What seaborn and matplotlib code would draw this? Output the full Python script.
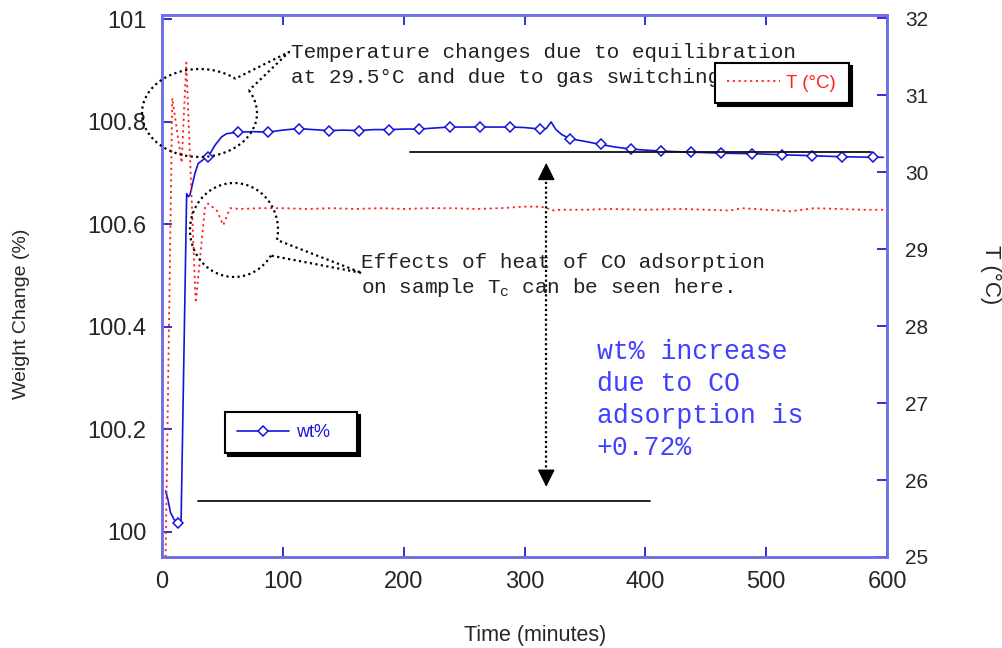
import numpy as np
import matplotlib
matplotlib.use("Agg")
import matplotlib.pyplot as plt
import seaborn as sns
from matplotlib.lines import Line2D

# ---------------- data ----------------
wt_time = [3, 5, 7, 10, 13, 15.8, 20.4, 21.8, 23.2, 27.3, 30, 35.6, 38, 44, 49.4, 53.5,
           63, 75, 88, 100, 113, 125, 138, 150, 163, 175, 188, 200, 213, 225, 238, 250,
           263, 275, 288, 300, 313, 318, 322, 326, 331, 338, 350, 363, 375, 388, 400,
           413, 438, 463, 488, 513, 538, 563, 588, 597]
wt_val = [100.080, 100.062, 100.038, 100.024, 100.018, 100.020, 100.660, 100.654, 100.658,
          100.700, 100.719, 100.729, 100.731, 100.755, 100.771, 100.777,
          100.780, 100.781, 100.780, 100.784, 100.787, 100.785, 100.783, 100.784,
          100.783, 100.785, 100.785, 100.786, 100.786, 100.788, 100.790, 100.790,
          100.790, 100.790, 100.790, 100.789, 100.786, 100.787, 100.800, 100.785,
          100.775, 100.767, 100.762, 100.756, 100.751, 100.747, 100.745,
          100.743, 100.741, 100.739, 100.738, 100.736, 100.734, 100.732, 100.731, 100.731]
wt_marker_times = [13, 38, 63, 88, 113, 138, 163, 188, 213, 238, 263, 288, 313, 338,
                   363, 388, 413, 438, 463, 488, 513, 538, 563, 588]

T_time = [3, 8.5, 16.3, 20.1, 27.9, 35.6, 38.3, 45.3, 50.7, 56.3, 65, 80, 100, 120, 140,
          160, 180, 200, 220, 240, 260, 280, 300, 310, 318, 322, 330, 350, 370, 400,
          430, 450, 470, 480, 500, 520, 540, 560, 580, 600]
T_val = [25.0, 30.96, 30.12, 31.42, 28.30, 29.55, 29.59, 29.50, 29.31, 29.53, 29.52,
         29.53, 29.53, 29.52, 29.53, 29.52, 29.53, 29.52, 29.53, 29.53, 29.52, 29.53,
         29.55, 29.55, 29.54, 29.50, 29.51, 29.51, 29.52, 29.51, 29.52, 29.51, 29.50,
         29.53, 29.51, 29.49, 29.53, 29.52, 29.51, 29.51]

x_ticks = [0, 100, 200, 300, 400, 500, 600]
y1_ticks = [100, 100.2, 100.4, 100.6, 100.8, 101]
y1_tick_labels = ['100', '100.2', '100.4', '100.6', '100.8', '101']
y2_ticks = [25, 26, 27, 28, 29, 30, 31, 32]

ref_high = 100.742
ref_low = 100.06
arrow_time = 318

# ---------------- style ----------------
sns.set_style("white")
plt.rcParams['font.family'] = ['Liberation Sans', 'DejaVu Sans']
plt.rcParams['mathtext.fontset'] = 'custom'
plt.rcParams['mathtext.rm'] = 'Liberation Mono'
plt.rcParams['mathtext.it'] = 'Liberation Mono'

W, H = 1002, 648
BLUE = '#1414e0'
RED = '#ff2020'
SPINE = '#6e6ee8'
TICKC = '#2020d0'
TXT = '#222222'
MONO = 'Liberation Mono'

fig = plt.figure(figsize=(W / 100, H / 100), dpi=100)
fig.patch.set_facecolor('white')
ax1 = fig.add_axes([162 / W, 1 - 557 / H, 725 / W, 542 / H])
ax2 = ax1.twinx()

mk_idx = [i for i, t in enumerate(wt_time) if t in wt_marker_times]
sns.lineplot(x=wt_time, y=wt_val, ax=ax1, color=BLUE, lw=1.2, marker='D',
             markevery=mk_idx, markersize=5, markerfacecolor='white',
             markeredgecolor=BLUE, markeredgewidth=1.1, legend=False)
sns.lineplot(x=T_time, y=T_val, ax=ax2, color=RED, lw=1.3, legend=False)
ax2.lines[-1].set_linestyle((0, (1.2, 2.0)))

ax1.set_xlim(0, 600)
ax1.set_ylim(99.951, 101.0086)
ax2.set_ylim(25, 32.039)

ax1.set_xticks(x_ticks)
ax1.set_yticks(y1_ticks)
ax1.set_yticklabels(y1_tick_labels)
ax2.set_yticks(y2_ticks)

ax1.tick_params(axis='x', direction='in', top=True, bottom=True, length=7, width=1.3,
                color=TICKC, labelsize=17, pad=10)
ax1.tick_params(axis='y', direction='in', left=True, right=False, length=7, width=1.3,
                color=TICKC, labelsize=17, pad=11)
ax2.tick_params(axis='y', direction='in', right=True, left=False, length=7, width=1.3,
                color=TICKC, labelsize=15, pad=13)
for ax in (ax1, ax2):
    for s in ax.spines.values():
        s.set_color(SPINE)
        s.set_linewidth(1.8)

ax1.set_xlabel('Time (minutes)', fontsize=15.5, va='center')
ax1.xaxis.set_label_coords((535 - 162) / 725, (557 - 636) / 542)
ax1.set_ylabel('Weight Change (%)', fontsize=14, va='center')
ax1.yaxis.set_label_coords((22 - 162) / 725, (557 - 314) / 542)
ax2.set_ylabel('T (°C)', fontsize=16, rotation=270, va='center', ha='center')
ax2.yaxis.set_label_coords((991 - 162) / 725, (557 - 275) / 542)

# reference lines and double arrow
ax1.plot([205, 587], [ref_high, ref_high], color='#111111', lw=1.3)
ax1.plot([30, 404], [ref_low, ref_low], color='#111111', lw=1.3)
ax1.plot([arrow_time, arrow_time], [ref_high - 0.04, ref_low + 0.04], color='black',
         lw=1.6, ls=(0, (1, 1.2)))
for tip, tail in ((100.72, 100.69), (100.088, 100.118)):
    ax1.annotate('', xy=(arrow_time, tip), xytext=(arrow_time, tail),
                 arrowprops=dict(arrowstyle='-|>,head_length=0.9,head_width=0.45',
                                 color='black', lw=1, shrinkA=0, shrinkB=0,
                                 mutation_scale=12))


# callout bubbles (pixel coordinates)
def callout(cx, cy, a, b, th0, th1, tip):
    th = np.radians(np.linspace(th0, th1, 300))
    xs = cx + a * np.cos(th)
    ys = cy + b * np.sin(th)
    xs = np.r_[xs, tip[0], xs[0]]
    ys = np.r_[ys, tip[1], ys[0]]
    ln = Line2D(xs / W, 1 - ys / H, transform=fig.transFigure, color='black',
                lw=1.6, ls=(0, (1, 1.5)), zorder=5)
    fig.add_artist(ln)


callout(199.5, 113, 57.5, 44, -30.8, 308.6, (289, 52))
callout(234, 230, 44, 47, 33, 372.3, (362, 273))

# annotation texts
def ftext(x, y, s, **kw):
    ax1.text(x / W, 1 - y / H, s, transform=fig.transFigure, va='baseline', ha='left',
             clip_on=False, **kw)


ftext(291, 58.3, 'Temperature changes due to equilibration', family=MONO, fontsize=15.15, color=TXT)
ftext(291, 83.3, 'at 29.5°C and due to gas switching.', family=MONO, fontsize=15.15, color=TXT)
ftext(361, 268.3, 'Effects of heat of CO adsorption', family=MONO, fontsize=15.15, color=TXT)
ftext(361, 293.3, r'on sample $\mathrm{T_c}$ can be seen here.', family=MONO, fontsize=15.15, color=TXT)

TBLUE = '#4040ff'
for i, s in enumerate(['wt% increase', 'due to CO', 'adsorption is', '+0.72%']):
    ftext(597, 359 + 32 * i, s, family=MONO, fontsize=19.1, color=TBLUE)

# legends
wt_handle = Line2D([], [], color=BLUE, lw=1.2, marker='D', markersize=5,
                   markerfacecolor='white', markeredgecolor=BLUE, markeredgewidth=1.1)
T_handle = Line2D([], [], color=RED, lw=1.3, ls=(0, (1.2, 2.0)))

leg1 = ax2.legend(handles=[wt_handle], labels=['wt%'], loc='upper left', mode='expand',
                  bbox_to_anchor=(225 / W, 1 - 452 / H, 132 / W, 40 / H),
                  bbox_transform=fig.transFigure,
                  borderaxespad=0, fontsize=13, handlelength=2.9, handletextpad=0.4,
                  borderpad=0.66, numpoints=1, labelcolor='linecolor', fancybox=False,
                  edgecolor='black', framealpha=1, shadow={'color': 'black', 'alpha': 1})
leg1.get_frame().set_linewidth(1.5)
ax2.add_artist(leg1)
leg2 = ax2.legend(handles=[T_handle], labels=['T (°C)'], loc='upper left', mode='expand',
                  bbox_to_anchor=(715 / W, 1 - 103 / H, 134 / W, 40 / H),
                  bbox_transform=fig.transFigure,
                  borderaxespad=0, fontsize=13.5, handlelength=2.85, handletextpad=0.33,
                  borderpad=0.62, labelcolor='linecolor', fancybox=False,
                  edgecolor='black', framealpha=1, shadow={'color': 'black', 'alpha': 1})
leg2.get_frame().set_linewidth(1.5)

fig.savefig('out.png', dpi=100, facecolor='white')
